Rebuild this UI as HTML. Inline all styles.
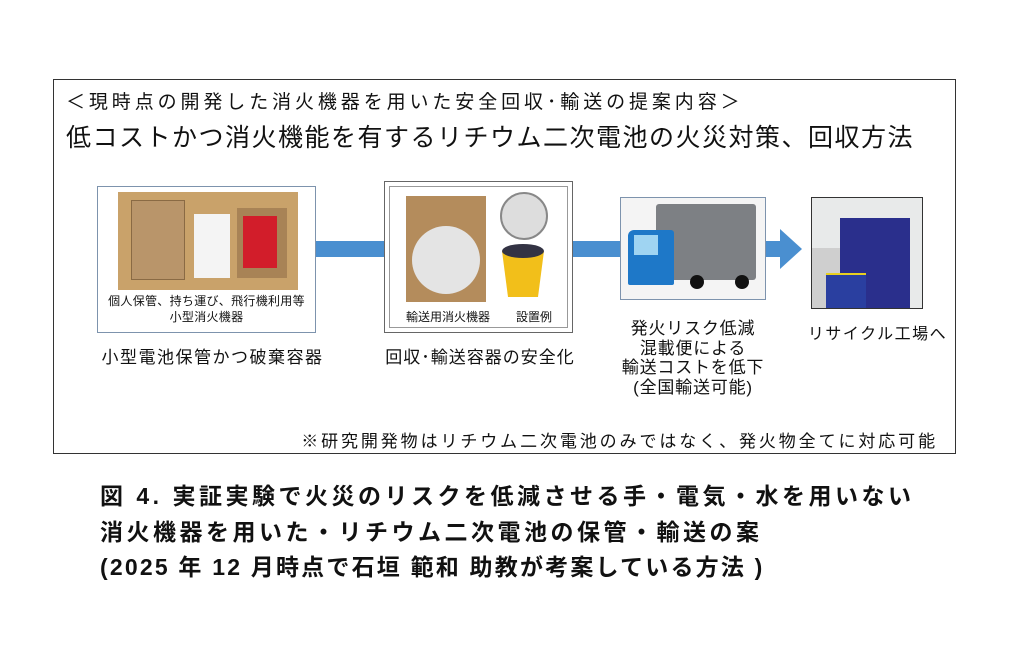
<!DOCTYPE html>
<html><head><meta charset="utf-8"><style>
body{margin:0;width:1024px;height:672px;background:#fff;position:relative;overflow:hidden;font-family:"Liberation Sans","Noto Sans CJK JP",sans-serif;color:#111}
.a{position:absolute;white-space:nowrap}
.c{text-align:center}
</style></head><body>
<div class="a" style="left:53px;top:79px;width:901px;height:373px;border:1.5px solid #333"></div>
<div class="a" style="left:66px;top:87px;font-size:19px;letter-spacing:3.9px">＜現時点の開発した消火機器を用いた安全回収･輸送の提案内容＞</div>
<div class="a" style="left:66px;top:118px;font-size:25px;letter-spacing:1.5px">低コストかつ消火機能を有するリチウム二次電池の火災対策、回収方法</div>
<!-- arrows -->
<div class="a" style="left:316px;top:241px;width:310px;height:16px;background:#4a8fd0"></div>
<div class="a" style="left:766px;top:241px;width:16px;height:16px;background:#4a8fd0"></div>
<svg class="a" style="left:780px;top:229px" width="22" height="40"><polygon points="0,0 22,20 0,40" fill="#4a8fd0"/></svg>
<!-- box1 -->
<div class="a" style="left:97px;top:186px;width:217px;height:145px;border:1.5px solid #7d93ad;background:#fff"></div>
<div class="a" style="left:118px;top:192px;width:180px;height:98px;background:#c9a26a"></div>
<div class="a" style="left:131px;top:200px;width:52px;height:78px;background:#b9956a;border:1px solid #8a6a44"></div>
<div class="a" style="left:194px;top:214px;width:36px;height:64px;background:#f4f4f4"></div>
<div class="a" style="left:237px;top:208px;width:50px;height:70px;background:#a88356"></div>
<div class="a" style="left:243px;top:216px;width:34px;height:52px;background:#d21d2a"></div>
<div class="a c" style="left:97px;top:293px;width:219px;font-size:12px;line-height:16px;letter-spacing:0.3px">個人保管、持ち運び、飛行機利用等<br>小型消火機器</div>
<div class="a c" style="left:98px;top:343px;width:229px;font-size:17px;letter-spacing:1.5px">小型電池保管かつ破棄容器</div>
<!-- box2 -->
<div class="a" style="left:384px;top:181px;width:187px;height:150px;border:1.5px solid #666;background:#fff"></div>
<div class="a" style="left:389px;top:186px;width:177px;height:140px;border:1px solid #999"></div>
<div class="a" style="left:406px;top:196px;width:80px;height:106px;background:#b48c5c"></div>
<div class="a" style="left:412px;top:226px;width:68px;height:68px;border-radius:50%;background:#e4e4e4"></div>
<div class="a" style="left:500px;top:192px;width:44px;height:44px;border-radius:50%;background:#ddd;border:2px solid #888"></div>
<svg class="a" style="left:500px;top:243px" width="46" height="56"><path d="M2,8 L8,54 L38,54 L44,8 Z" fill="#f2bf1a"/><ellipse cx="23" cy="8" rx="21" ry="7" fill="#334"/></svg>
<div class="a c" style="left:384px;top:308px;width:190px;font-size:12px"><span style="margin-right:26px">輸送用消火機器</span>設置例</div>
<div class="a c" style="left:365px;top:343px;width:230px;font-size:17px;letter-spacing:1px">回収･輸送容器の安全化</div>
<!-- box3 truck -->
<div class="a" style="left:620px;top:197px;width:144px;height:101px;border:1.5px solid #7d93ad;background:#f4f4f4"></div>
<div class="a" style="left:656px;top:204px;width:100px;height:76px;background:#7d8084;border-radius:3px"></div>
<div class="a" style="left:628px;top:230px;width:46px;height:55px;background:#1e78c8;border-radius:6px 3px 2px 2px"></div>
<div class="a" style="left:634px;top:235px;width:24px;height:20px;background:#9fd4f2"></div>
<div class="a" style="left:690px;top:275px;width:14px;height:14px;border-radius:50%;background:#111"></div>
<div class="a" style="left:735px;top:275px;width:14px;height:14px;border-radius:50%;background:#111"></div>
<div class="a c" style="left:590px;top:319px;width:206px;font-size:17px;line-height:19.5px;letter-spacing:0.8px">発火リスク低減<br>混載便による<br>輸送コストを低下<br>(全国輸送可能)</div>
<!-- box4 -->
<div class="a" style="left:811px;top:197px;width:110px;height:110px;border:1.5px solid #333;background:#e8eaea;overflow:hidden">
<div class="a" style="left:28px;top:20px;width:70px;height:90px;background:#2a2f8c"></div>
<div class="a" style="left:0;top:50px;width:28px;height:60px;background:#cfcfcf"></div>
<div class="a" style="left:14px;top:75px;width:40px;height:35px;background:#2a3fa0;border-top:2px solid #e8d020"></div>
</div>
<div class="a c" style="left:785px;top:320px;width:185px;font-size:16px;letter-spacing:1.5px">リサイクル工場へ</div>
<div class="a" style="right:86px;top:427px;font-size:17px;letter-spacing:2.9px">※研究開発物はリチウム二次電池のみではなく、発火物全てに対応可能</div>
<!-- caption -->
<div class="a" style="left:100px;top:479px;font-size:23px;font-weight:bold;line-height:35.5px;letter-spacing:3.5px">図 4. 実証実験で火災のリスクを低減させる手・電気・水を用いない<br>消火機器を用いた・リチウム二次電池の保管・輸送の案<br><span style="letter-spacing:2.2px">(2025 年 12 月時点で石垣 範和 助教が考案している方法 )</span></div>
</body></html>
